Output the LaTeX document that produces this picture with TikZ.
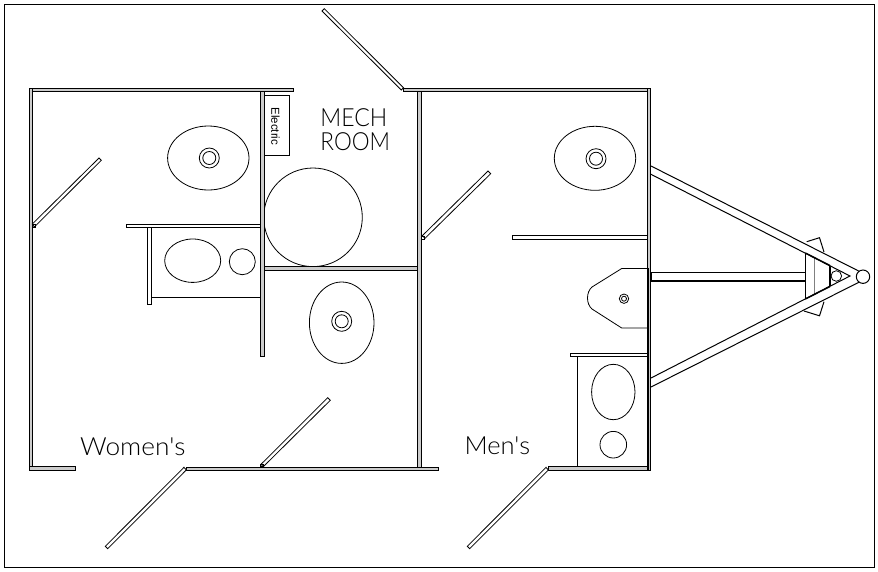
\documentclass[tikz,border=0pt]{standalone}
\usepackage{fontspec}
\setmainfont{Liberation Sans}
\newfontfamily\cadfont[UprightFont=* Light]{Lato}
\tikzset{
  wall/.style={draw=black,line width=0.85pt,fill=gray!40},
  door/.style={draw=black,line width=0.8pt,fill=white,line join=miter},
  fixture/.style={draw=black,line width=0.8pt},
  thinline/.style={draw=black,line width=1pt},
  heavy/.style={draw=black,line width=2pt},
  cadtext/.style={inner sep=0pt,anchor=base west,text=black,font=\cadfont\fontsize{25}{25}\selectfont},
}
\begin{document}
\begin{tikzpicture}[x=1pt,y=-1pt]
\useasboundingbox (0,0) rectangle (878,571);
\fill[white] (0,0) rectangle (878,571);
\draw[black,line width=1pt] (4.3,4.3) rectangle (874,567.5);
% sanitary fixtures
\draw[fixture] (208.3,158) ellipse [x radius=40.7,y radius=32];
\draw[fixture] (209.3,158) circle [radius=10];
\draw[fixture] (209.3,158) circle [radius=6.5];
\draw[fixture] (192.7,260.7) ellipse [x radius=28,y radius=21.7];
\draw[fixture] (242.3,261.7) circle [radius=13];
\draw[fixture] (313,217.3) circle [radius=49.3];
\draw[fixture] (341.7,322.7) ellipse [x radius=32.3,y radius=40.7];
\draw[fixture] (341.7,321.3) circle [radius=10];
\draw[fixture] (341.7,321.3) circle [radius=6.5];
\draw[fixture] (595,158.3) ellipse [x radius=40.7,y radius=32];
\draw[fixture] (596,158.7) circle [radius=10];
\draw[fixture] (596,158.7) circle [radius=6.5];
\draw[fixture] (647,268.5) -- (621.7,268.5) -- (592,287) .. controls (586,292) and (586,304) .. (592,309) -- (621.7,328) -- (647,328);
\draw[fixture] (624,298.7) circle [radius=4.7];
\draw[fixture] (624,298.7) circle [radius=2.5];
\draw[fixture] (613.3,392) ellipse [x radius=21.7,y radius=27.7];
\draw[fixture] (613.3,444.7) circle [radius=13.3];
% walls
\draw[wall] (29,88) rectangle (293,91.3);
\draw[wall] (29,88) rectangle (32.5,470);
\draw[wall] (29,466.7) rectangle (75.5,470);
\draw[wall] (186,467) rectangle (438,470);
\draw[wall] (260.5,91) rectangle (264,356);
\draw[wall] (417.3,91) rectangle (421.3,467);
\draw[wall] (403,88) rectangle (650.5,91.5);
\draw[wall] (647,88) rectangle (650.5,470);
\draw[heavy] (647.5,268) -- (647.5,470);
\draw[wall] (548.7,466.7) rectangle (647,470);
\draw[wall] (264,266.3) rectangle (417.3,270.3);
\draw[door] (126.3,224) rectangle (260.5,227.7);
\draw[door] (147,227.7) rectangle (151,304);
\draw[thinline] (151,297.3) -- (260.5,297.3);
\draw[door] (512.3,235.7) rectangle (647,239.7);
\draw[door] (570,353.3) rectangle (647,356.7);
\draw[thinline] (577,356.7) -- (577,466.7);
% doors
\draw[door] (322,11) -- (324.3,8.7) -- (403.5,87.7) -- (401.3,90) -- cycle;
\draw[door] (99,158) -- (101.3,160.3) -- (34.3,227) -- (32.3,224) -- cycle;
\draw[door] (105.3,546.3) -- (107.7,548.7) -- (186.3,470) -- (184,467.3) -- cycle;
\draw[door] (327.7,397.7) -- (330.3,400.3) -- (263.3,466.7) -- (261,464.3) -- cycle;
\draw[door] (488,171) -- (490.7,173.7) -- (425,238.3) -- (422.3,235.7) -- cycle;
\draw[door] (467.3,546.3) -- (469.7,548.7) -- (548.3,470) -- (546,467.3) -- cycle;
\draw[fixture] (32.6,224.3) rectangle (35,227.2);
\draw[fixture] (260.8,464) rectangle (263.6,466.7);
\draw[fixture] (421.4,236.3) rectangle (424,239);
% electric box
\draw[fill=white,line width=1pt] (264,95.3) rectangle (289.7,155.3);
\node[inner sep=0pt,rotate=-90,font=\fontsize{11.5}{12}\selectfont] (electric) at (275.5,126.3) {Electric};
% labels
\node[cadtext,xscale=0.92] (mech) at (320.3,126) {MECH};
\node[cadtext,xscale=0.9] (room) at (320.3,150) {ROOM};
\node[cadtext,xscale=1.05] (womens) at (80,455.7) {Women's};
\node[cadtext,xscale=1.02] (mens) at (464.3,454) {Men's};
% trailer tongue
\draw[thinline] (651,272.3) -- (805.3,272.3);
\draw[heavy] (651,280.5) -- (805.3,280.5);
\draw[thinline] (651.3,272.3) -- (651.3,281);
\draw[thinline] (806.7,241.7) -- (819.5,237.7) -- (824,252);
\draw[thinline] (804,311) -- (819.5,315.8) -- (824,301.7);
\draw[thinline] (805.3,250) -- (805.3,303);
\draw[draw=gray,line width=1.6pt] (814.3,254) -- (814.3,299);
\draw[thinline,line width=1.4pt] (830,262) -- (830,291);
\fill[white] (651,166) -- (860,271.7) -- (850,276) -- (651,174.3) -- cycle;
\fill[white] (651,378) -- (850,276) -- (860,281.7) -- (651,387) -- cycle;
\draw[thinline] (651,166) -- (860,271.7);
\draw[thinline] (651,174.3) -- (850,276) -- (651,378);
\draw[thinline] (651,387) -- (860,281.7);
\draw[thinline,line width=1.5pt] (805.3,253) -- (830,265.6);
\draw[thinline,line width=1.5pt] (805.3,299) -- (830,286.4);
\draw[fixture,fill=white] (836.3,276) circle [radius=5.3];
\draw[thinline,fill=white] (863,276.7) circle [radius=6.7];
% outer wall line
\draw[thinline] (650.7,88) -- (650.7,470);
\end{tikzpicture}
\end{document}
